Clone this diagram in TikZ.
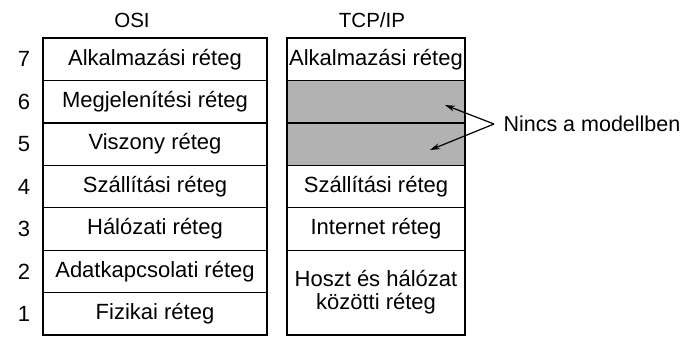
\documentclass[tikz,border=0pt]{standalone}
\usepackage{fontspec}
\setmainfont{Liberation Sans}
\usetikzlibrary{arrows.meta}
\begin{document}
\begin{tikzpicture}[x=1pt,y=-1pt,
  txt/.style={font=\fontsize{22}{24}\selectfont},
  layer/.style={txt, draw, line width=1.3pt, inner sep=0pt, outer sep=0pt,
    minimum height=42.43pt, anchor=north west, align=center},
  osi/.style={layer, minimum width=224pt},
  tcp/.style={layer, minimum width=178pt},
  absent/.style={tcp, fill=black!30},
  num/.style={txt},
  title/.style={font=\fontsize{20.5}{24}\selectfont},
  pointer/.style={line width=1.2pt, -{Stealth[length=10pt,width=6pt]}}]
\useasboundingbox (0,0) rectangle (681,338);

% OSI reference model
\node[title] (osiT) at (132,20) {OSI};
\node[osi] (o7) at (43,38) {Alkalmazási réteg};
\node[osi] (o6) at (o7.south west) {Megjelenítési réteg};
\node[osi] (o5) at (o6.south west) {Viszony réteg};
\node[osi] (o4) at (o5.south west) {Szállítási réteg};
\node[osi] (o3) at (o4.south west) {Hálózati réteg};
\node[osi] (o2) at (o3.south west) {Adatkapcsolati réteg};
\node[osi] (o1) at (o2.south west) {Fizikai réteg};

% layer numbers
\foreach \i in {1,...,7}
  \node[num] (n\i) at ([xshift=-19pt]o\i.west) {\i};

% TCP/IP reference model
\node[title] (tcpT) at (372,20) {TCP/IP};
\node[tcp] (t4) at (287,38) {Alkalmazási réteg};
\node[absent] (tA) at (t4.south west) {};
\node[absent] (tB) at (tA.south west) {};
\node[tcp] (t3) at (tB.south west) {Szállítási réteg};
\node[tcp] (t2) at (t3.south west) {Internet réteg};
\node[tcp, minimum height=84.86pt] (t1) at (t2.south west)
  {Hoszt és hálózat\\[-1pt]közötti réteg};

% note on the missing layers
\node[txt, font=\fontsize{21.5}{24}\selectfont, anchor=west] (note) at (500,124) {Nincs a modellben};
\coordinate (split) at ([xshift=-6pt]note.west);
\coordinate (tipA) at (445,105);
\coordinate (tipB) at (430,150);
\draw[pointer] (split) -- (tipA);
\draw[pointer] (split) -- (tipB);
\end{tikzpicture}
\end{document}
